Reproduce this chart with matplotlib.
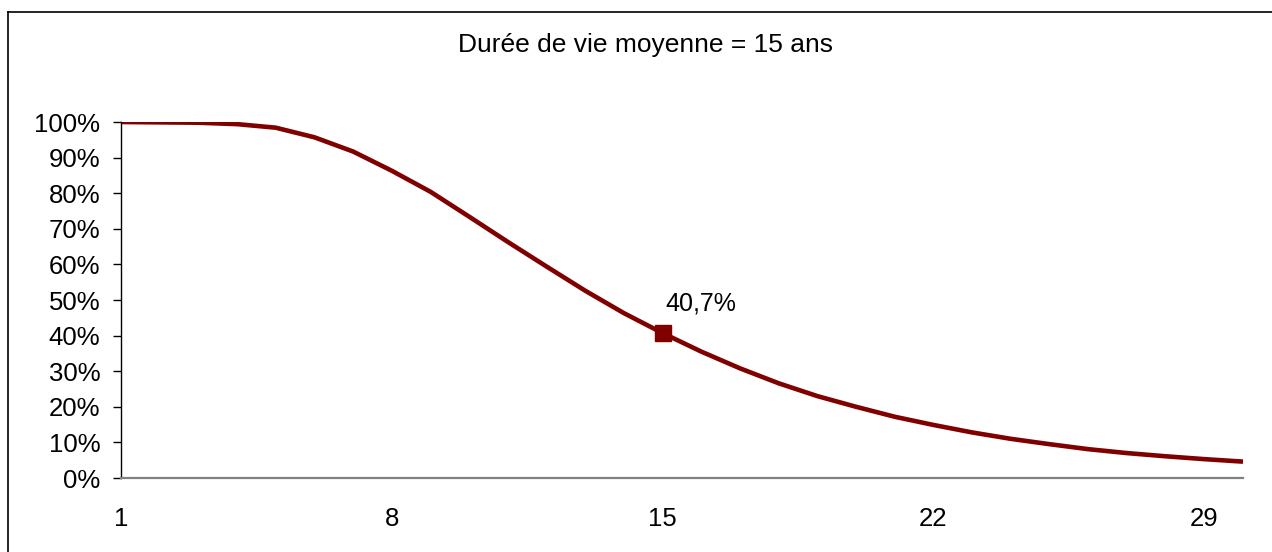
import matplotlib.pyplot as plt
from matplotlib.lines import Line2D
from matplotlib.ticker import FuncFormatter

plt.rcParams["font.family"] = ["Liberation Sans", "DejaVu Sans"]

years = list(range(1, 31))
survival = [
    1.000, 0.999, 0.998, 0.994, 0.984, 0.957, 0.917, 0.863, 0.804, 0.734,
    0.663, 0.594, 0.526, 0.463, 0.407, 0.355, 0.308, 0.266, 0.230, 0.200,
    0.172, 0.149, 0.128, 0.110, 0.095, 0.081, 0.070, 0.061, 0.053, 0.046,
]
highlight_year = 15
highlight_label = "40,7%"
x_ticks = [1, 8, 15, 22, 29]
y_ticks = [i / 10 for i in range(11)]
title = "Durée de vie moyenne = 15 ans"
color = "#800000"

fig = plt.figure(figsize=(12.72, 5.52), dpi=100)
ax = fig.add_axes([121 / 1272, 74 / 552, 1122 / 1272, 356 / 552])

ax.plot(years, survival, color=color, linewidth=3.3, solid_capstyle="butt")
hi = years.index(highlight_year)
ax.plot([highlight_year], [survival[hi]], marker="s", markersize=11,
        color=color, linestyle="none")
ax.annotate(highlight_label, (highlight_year, survival[hi]),
            xytext=(2, 13), textcoords="offset points",
            fontsize=18, ha="left", va="bottom")

ax.set_xlim(1, 30)
ax.set_ylim(0, 1)
ax.set_xticks(x_ticks)
ax.set_yticks(y_ticks)
ax.yaxis.set_major_formatter(FuncFormatter(lambda v, _: f"{v * 100:.0f}%"))
ax.tick_params(axis="y", direction="out", length=6, width=1, labelsize=18.5, pad=9)
ax.tick_params(axis="x", length=0, labelsize=18.5, pad=21)

for side in ("top", "right"):
    ax.spines[side].set_visible(False)
ax.spines["left"].set_color("black")
ax.spines["left"].set_linewidth(1.0)
ax.spines["bottom"].set_color("#808080")
ax.spines["bottom"].set_linewidth(1.6)

fig.text(645 / 1272, 1 - 45 / 552, title, ha="center", va="center", fontsize=19)

# outer chart border (left and top edges visible)
fig.add_artist(Line2D([8 / 1272, 8 / 1272], [0, 1 - 12 / 552],
                      transform=fig.transFigure, color="black", linewidth=1.2))
fig.add_artist(Line2D([8 / 1272, 1], [1 - 12 / 552, 1 - 12 / 552],
                      transform=fig.transFigure, color="black", linewidth=1.2))

fig.savefig("out.png", dpi=100)
